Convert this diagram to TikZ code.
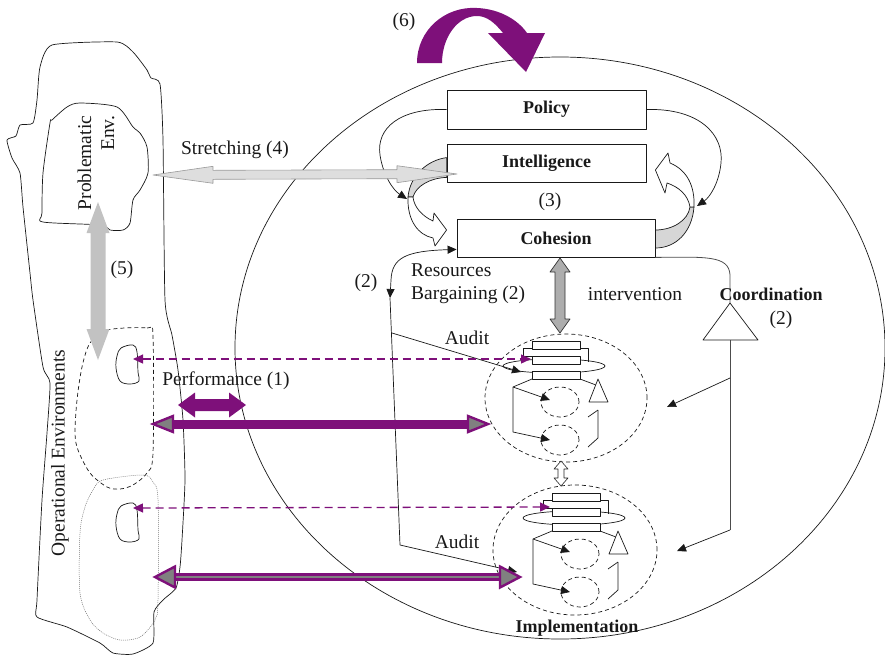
\documentclass[tikz,border=0pt]{standalone}
\usepackage{fontspec}
\setmainfont{Liberation Serif}
\usetikzlibrary{calc,arrows.meta}
\definecolor{purp}{RGB}{126,16,122}
\definecolor{lightgrey}{RGB}{194,194,194}
\definecolor{bandgrey}{RGB}{214,214,214}
\definecolor{ink}{RGB}{25,25,25}

% straight double-headed block arrow: style, from, to, shaft half width, head half width, head length
\newcommand\blockdbl[6]{%
  \coordinate (bdA) at ($(#2)!#6!(#3)$);
  \coordinate (bdB) at ($(#3)!#6!(#2)$);
  \path[#1] (#2)
    -- ($(bdA)!#5!90:(#3)$) -- ($(bdA)!#4!90:(#3)$)
    -- ($(bdB)!#4!-90:(#2)$) -- ($(bdB)!#5!-90:(#2)$)
    -- (#3)
    -- ($(bdB)!#5!90:(#2)$) -- ($(bdB)!#4!90:(#2)$)
    -- ($(bdA)!#4!-90:(#3)$) -- ($(bdA)!#5!-90:(#3)$)
    -- cycle;}
% triangular head: style, tip, toward, length, half width
\newcommand\headtri[5]{%
  \coordinate (htA) at ($(#2)!#4!(#3)$);
  \path[#1] (#2) -- ($(htA)!#5!90:(#3)$) -- ($(htA)!#5!-90:(#3)$) -- cycle;}

\tikzset{
  blk/.tip={Triangle[length=9pt,width=8pt]},
  ptip/.tip={Triangle[length=10pt,width=9pt]},
  lbl/.style={font=\fontsize{19.5}{23}\selectfont, text=ink, inner sep=0pt},
  blbl/.style={font=\bfseries\fontsize{18}{21}\selectfont, text=ink, inner sep=0pt},
  unitbox/.style={draw=ink, fill=white, line width=.8pt, minimum width=199pt,
    minimum height=38pt, inner sep=0pt, font=\bfseries\fontsize{18}{21}\selectfont, text=ink},
  thinline/.style={draw=ink, line width=.7pt},
  envdash/.style={draw=ink, line width=.7pt, dash pattern=on 4pt off 3pt},
  envdot/.style={draw=black!55, line width=.5pt, dash pattern=on 1pt off 1pt},
  subunit/.pic={
    \draw[thinline] (22,25) ellipse [x radius=51pt, y radius=7pt];
    \draw[thinline] (0,7) -| (-9,15) -- (0,15);
    \draw[thinline] (48,7) -| (56,21);
    \draw[thinline, fill=white] (0,0) rectangle (48,8);
    \draw[thinline, fill=white] (0,15) rectangle (48,23);
    \draw[thinline, fill=white] (0,30) rectangle (48,38);
    \draw[envdash] (28,61) ellipse [x radius=19pt, y radius=15pt];
    \draw[envdash] (28,99) ellipse [x radius=19pt, y radius=15pt];
    \draw[thinline] (0,38) -- (-19,46) -- (-19,91);
    \draw[thinline, -blk] (-19,46) -- (18,59);
    \draw[thinline, -blk] (-19,91) -- (18,99);
    \draw[thinline] (48,38) -- (64,44);
    \draw[thinline, fill=white] (66,38) -- (76,61) -- (57,61) -- cycle;
    \draw[thinline] (66,69) -- (66,97) -- (56,106);
    \draw[thinline] (66,69) -- (56,76);
  }
}

\begin{document}
\begin{tikzpicture}[x=1pt, y=-1pt, line join=round]
\useasboundingbox (0,0) rectangle (885,656);

% the viable system
\draw[thinline] (560,348) ellipse [x radius=325pt, y radius=291pt];

% environment
\draw[thinline] plot[smooth cycle, tension=0.35] coordinates {
  (52,45) (117,42) (133,52) (147,70) (151,78) (160,84) (163,140) (165,300)
  (172,335) (178,370) (183,420) (185,480) (182,540) (180,567) (176,588)
  (163,600) (154,612) (153,643) (133,654) (113,653) (100,643) (67,627)
  (37,617) (37,600) (42,500) (47,433) (50,383) (43,367) (33,300) (30,273)
  (23,207) (20,173) (12,158) (7,140) (16,136) (20,125) (33,123) (37,100) (40,67)};
\draw[thinline] plot[smooth cycle, tension=0.45] coordinates {
  (52,120) (67,107) (80,103) (117,107) (133,127) (140,133) (147,147) (148,173)
  (140,190) (133,200) (130,223) (123,230) (110,230) (100,225) (43,222)
  (42,213) (43,173) (50,123)};
\draw[envdash] plot[smooth cycle, tension=0.5] coordinates {
  (107,330) (147,328) (153,337) (153,453) (147,473) (133,485) (120,489)
  (107,487) (90,473) (78,450) (75,433) (77,400) (82,367) (90,343)};
\draw[envdot] plot[smooth cycle, tension=0.5] coordinates {
  (103,480) (143,475) (153,482) (158,500) (158,600) (155,620) (140,637)
  (120,640) (103,633) (90,620) (80,593) (80,533) (85,507) (93,490)};
\draw[thinline] plot[smooth cycle, tension=0.6] coordinates {
  (121,348) (133,345) (137,352) (138,372) (139,381) (130,384) (120,381) (116,368) (117,356)};
\draw[thinline] plot[smooth cycle, tension=0.6] coordinates {
  (121,506) (133,503) (137,510) (138,530) (139,539) (130,542) (120,539) (116,526) (117,514)};

% operational units
\draw[envdash] (566,398) ellipse [x radius=81pt, y radius=64pt];
\draw[envdash] (575,550) ellipse [x radius=82pt, y radius=65pt];
\pic at (532,341) {subunit};
\pic at (552,493) {subunit};

% management boxes
\node[unitbox, minimum height=39pt] (policy) at (546.5,109.5) {Policy};
\node[unitbox] (intel) at (546.5,163) {Intelligence};
\node[unitbox, minimum width=198pt] (coh) at (556,238) {Cohesion};

% 3-4 homeostat
\draw[thinline, -blk] (policy.west) .. controls (400,108) and (376,128) .. (380,155)
  .. controls (383,175) and (393,190) .. (407,199);
\draw[thinline, -blk] (policy.east) .. controls (700,108) and (724,135) .. (721,163)
  .. controls (719,183) and (710,197) .. (697,206);
\draw[thinline, fill=bandgrey] ($(intel.north west)+(0,14)$) .. controls (428,160) and (410,175) .. (408,197)
  -- (413,197) .. controls (416,186) and (430,178) .. ($(intel.south west)+(0,-5)$) -- cycle;
\draw[thinline, fill=white] (408,197) .. controls (407,220) and (418,235) .. (433,238)
  -- (435,246) -- ($(coh.west)+(-10,-8)$) -- (434,213) -- (433,221)
  .. controls (422,216) and (414,207) .. (413,197) -- cycle;
\draw[thinline, fill=bandgrey] ($(coh.east)+(0,10)$) .. controls (676,248) and (692,232) .. (694,207)
  -- (690,207) .. controls (688,221) and (672,230) .. ($(coh.east)+(0,-8)$) -- cycle;
\draw[thinline, fill=white] (694,207) .. controls (695,186) and (687,170) .. (670,163)
  -- (668,153) -- ($(intel.east)+(9,7)$) -- (665,193) -- (667,183)
  .. controls (679,187) and (688,195) .. (690,207) -- cycle;

% resources bargaining and audit
\coordinate (rb1) at (390,298);
\coordinate (rb2) at (400,545);
\coordinate (rb3) at (517,572);
\coordinate (au1) at (392,333);
\coordinate (au2) at (521,372);
\draw[thinline, blk-blk] ($(coh.south west)+(0,-8)$) .. controls (405,251) and (392,258) .. (391,280) -- (rb1);
\draw[thinline, -blk] (rb1) -- (rb2) -- (rb3);
\draw[thinline, -blk] (au1) -- (au2);

% coordination
\coordinate (cotop) at (730,303);
\coordinate (cob1) at (730,340);
\coordinate (cob2) at (730,530);
\coordinate (cobr1) at (730,378);
\draw[draw=black!70, line width=.8pt] (coh.south east) .. controls (705,257) and (729,255) .. (730,275) -- (cotop);
\draw[draw=black!70, line width=.8pt] (cob1) -- (cob2);
\draw[thinline, fill=white] (cotop) -- (758,340) -- (703,340) -- cycle;
\draw[thinline, -blk] (cobr1) -- (667,407);
\draw[thinline, -blk] (cob2) -- (677,551);

% intervention and links between units
\coordinate (iv1) at (560,258);
\coordinate (iv2) at (560,333);
\blockdbl{fill=black!32, draw=black!80, line width=.7pt}{iv1}{iv2}{5pt}{10pt}{14pt}
\coordinate (w1) at (561,461);
\coordinate (w2) at (561,486);
\blockdbl{fill=white, draw=black!85, line width=.6pt}{w1}{w2}{3pt}{7pt}{8pt}

% stretching and (5)
\coordinate (s1) at (153,175);
\coordinate (s2) at (457,174);
\blockdbl{fill=black!13, draw=black!40, line width=.6pt}{s1}{s2}{4.5pt}{8.5pt}{60pt}
\coordinate (g1) at (98,202);
\coordinate (g2) at (98,360);
\blockdbl{fill=lightgrey}{g1}{g2}{7.5pt}{11.5pt}{31pt}

% performance
\coordinate (pd1) at (133,359);
\coordinate (pd2) at (531,359);
\draw[purp, line width=1.3pt, dash pattern=on 8pt off 5pt, ptip-ptip] (pd1) -- (pd2);
\coordinate (pe1) at (133,508);
\coordinate (pe2) at (550,507);
\draw[purp, line width=1.3pt, dash pattern=on 8pt off 5pt, ptip-ptip] (pe1) -- (pe2);
\coordinate (pf1) at (178,405);
\coordinate (pf2) at (246,405);
\blockdbl{fill=purp}{pf1}{pf2}{6pt}{12.5pt}{17pt}
\coordinate (pa1) at (153,424);
\coordinate (pa2) at (488,424);
\draw[purp, line width=9pt] ($(pa1)!18pt!(pa2)$) -- ($(pa2)!18pt!(pa1)$);
\headtri{fill=black!50, draw=purp, line width=2.4pt, line join=miter}{pa1}{pa2}{20pt}{8pt}
\headtri{fill=black!50, draw=purp, line width=2.4pt, line join=miter}{pa2}{pa1}{20pt}{8pt}
\coordinate (pb1) at (155,577);
\coordinate (pb2) at (520,577);
\draw[purp, line width=8pt] ($(pb1)!18pt!(pb2)$) -- ($(pb2)!18pt!(pb1)$);
\draw[black!50, line width=2pt] ($(pb1)!18pt!(pb2)$) -- ($(pb2)!18pt!(pb1)$);
\headtri{fill=black!50, draw=purp, line width=2.4pt, line join=miter}{pb1}{pb2}{20pt}{10.5pt}
\headtri{fill=black!50, draw=purp, line width=2.4pt, line join=miter}{pb2}{pb1}{20pt}{10.5pt}

% (6) self-reference
\fill[purp] (417,63) .. controls (417,30) and (445,6) .. (477,8)
  .. controls (500,9) and (518,20) .. (527,33) -- (545,33) -- (526,72) -- (488,33) -- (503,33)
  .. controls (495,23) and (487,16) .. (477,16) .. controls (457,16) and (442,38) .. (442,63) -- cycle;

% labels
\node[lbl] (t6) at (404,22) {(6)};
\node[lbl] (tstr) at (235,150) {Stretching (4)};
\node[lbl] (t3) at (550,202) {(3)};
\node[lbl] (t2a) at (366,283) {(2)};
\node[lbl, anchor=west, align=left] (tres) at (411,284) {Resources\\Bargaining (2)};
\node[lbl] (tint) at (635,294) {intervention};
\node[blbl] (tcoord) at (771,294) {Coordination};
\node[lbl] (t2c) at (781,320) {(2)};
\node[lbl] (taud1) at (467,338) {Audit};
\node[lbl] (taud2) at (457,542) {Audit};
\node[lbl] (tperf) at (226,381) {Performance (1)};
\node[blbl] (timpl) at (577,628) {Implementation};
\node[lbl, rotate=90, align=right] (tprob) at (96,163) {Problematic\\Env.};
\node[lbl, rotate=90] (topenv) at (60,453) {Operational Environments};
\node[lbl] (t5) at (122,270) {(5)};
\end{tikzpicture}
\end{document}
